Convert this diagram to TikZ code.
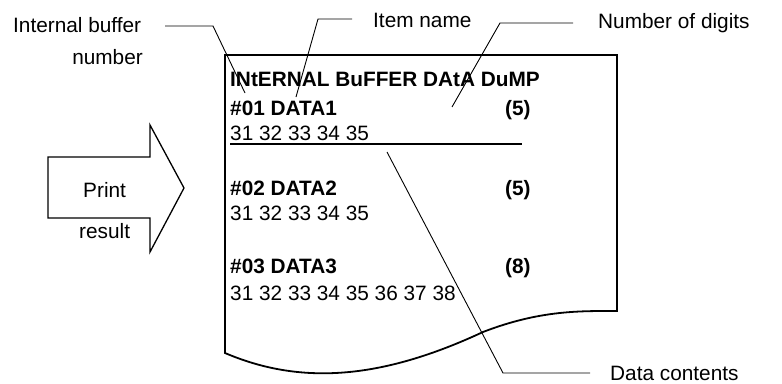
\documentclass[tikz,border=0pt]{standalone}
\usepackage{fontspec}
\setmainfont{Liberation Sans}
\usetikzlibrary{positioning,calc}

\begin{document}
\begin{tikzpicture}[
    x=1pt, y=-1pt,
    txt/.style={inner sep=0pt, anchor=base west, font=\fontsize{20.8}{25}\selectfont},
    btxt/.style={txt, font=\fontsize{20.8}{25}\selectfont\bfseries},
    leader/.style={line width=0.9pt},
    paper/.style={line width=1.8pt, line join=miter},
    bigarrow/.style={line width=1.3pt, line join=miter}
  ]
  \useasboundingbox (0,0) rectangle (782,383);

  % paper sheet with torn bottom
  \draw[paper] (225,353) .. controls (300,385) and (380,380) .. (483,332)
    .. controls (540,310) and (580,311) .. (617,311) -- (617,55) -- (225,55) -- cycle;

  % printout contents
  \node[btxt] (title) at (230,86) {INtERNAL BuFFER DAtA DuMP};
  \node[btxt] (item1) at (230,115) {\#01 DATA1};
  \node[btxt] (dig1) at (505,115) {(5)};
  \node[txt] (data1) at (230,140) {31 32 33 34 35};
  \node[btxt] (item2) at (230,195) {\#02 DATA2};
  \node[btxt] (dig2) at (505,195) {(5)};
  \node[txt] (data2) at (230,220) {31 32 33 34 35};
  \node[btxt] (item3) at (230,273) {\#03 DATA3};
  \node[btxt] (dig3) at (505,273) {(8)};
  \node[txt] (data3) at (230,300) {31 32 33 34 35 36 37 38};
  \coordinate (ulend) at (522,144);
  \draw[line width=1.6pt] (230,144) -- (ulend);

  % print arrow
  \draw[bigarrow] (48,157) -- (150,157) -- (150,125) -- (184,188) -- (150,252)
    -- (150,218) -- (48,218) -- cycle;
  \node[txt] (print) at (83,197) {Print};
  \node[txt] (result) at (79,238) {result};

  % labels
  \node[txt] (lblbuf) at (13,32) {Internal buffer};
  \node[txt, anchor=base east] (lblnum) at (143,64) {number};
  \node[txt] (lblitem) at (373,27) {Item name};
  \node[txt] (lbldig) at (598,28) {Number of digits};
  \node[txt] (lbldata) at (610,380) {Data contents};

  % leader lines
  \coordinate (bufa) at (165,26);
  \coordinate (bufb) at (213,26);
  \coordinate (bufc) at (245,93);
  \coordinate (itema) at (352,19);
  \coordinate (itemb) at (318,19);
  \coordinate (itemc) at (296,97);
  \coordinate (diga) at (573,23);
  \coordinate (digb) at (500,23);
  \coordinate (digc) at (452,107);
  \coordinate (dataa) at (590,373);
  \coordinate (datab) at (503,373);
  \coordinate (datac) at (387,152);
  \draw[leader] (bufa) -- (bufb) -- (bufc);
  \draw[leader] (itema) -- (itemb) -- (itemc);
  \draw[leader] (diga) -- (digb) -- (digc);
  \draw[leader] (dataa) -- (datab) -- (datac);
\end{tikzpicture}
\end{document}
